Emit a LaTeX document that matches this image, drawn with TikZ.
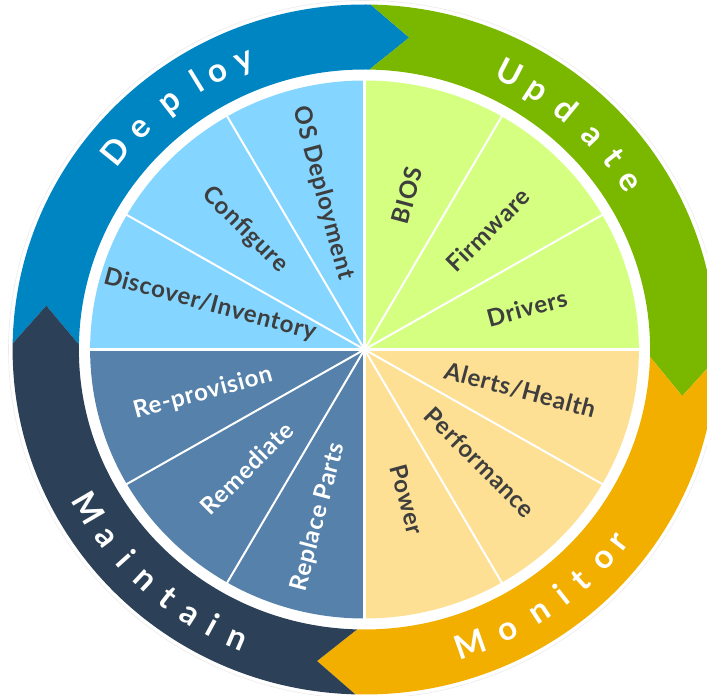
\documentclass[tikz,border=0pt]{standalone}
\usepackage{fontspec}
\setmainfont{Lato}
\definecolor{ringblue}{HTML}{0085C3}
\definecolor{ringgreen}{HTML}{7AB800}
\definecolor{ringorange}{HTML}{F2AF00}
\definecolor{ringnavy}{HTML}{2C4157}
\definecolor{pieblue}{HTML}{84D5FF}
\definecolor{piegreen}{HTML}{D5FF80}
\definecolor{pieyellow}{HTML}{FDE094}
\definecolor{piesteel}{HTML}{5581AA}
\definecolor{labgray}{HTML}{3E3E3E}
\newfontfamily\labfont{Lato}[LetterSpace=3]
\tikzset{
  lab/.style={font=\labfont\fontsize{24}{28}\selectfont\bfseries, text=labgray, inner sep=0pt},
  labw/.style={lab, text=white},
  ringtxt/.style={font=\fontsize{33}{37}\selectfont\bfseries, text=white, anchor=base, inner sep=0pt},
  spoke/.style={draw=white, line width=2pt},
  axisline/.style={draw=white, line width=3pt}
}
\begin{document}
\begin{tikzpicture}[x=1pt,y=1pt]
\useasboundingbox (-364.5,-346.5) rectangle (342.5,349.5);
\begin{scope}[xscale=1.02]
\def\ringO{345}
\def\ringI{280}
\def\ringM{315}
\def\pieR{269}
% faint outline
\draw[black!8, line width=0.6pt] (0,0) circle[radius=349];
% ring segments
\fill[ringblue] (179:\ringO) arc[start angle=179, end angle=89, radius=\ringO] -- (82:\ringM) -- (89:\ringI) arc[start angle=89, end angle=179, radius=\ringI] -- (172:\ringM) -- cycle;
\fill[ringgreen] (89:\ringO) arc[start angle=89, end angle=-1.5, radius=\ringO] -- (-8.5:\ringM) -- (-1.5:\ringI) arc[start angle=-1.5, end angle=89, radius=\ringI] -- (82:\ringM) -- cycle;
\fill[ringorange] (-1.5:\ringO) arc[start angle=-1.5, end angle=-91.5, radius=\ringO] -- (-98.5:\ringM) -- (-91.5:\ringI) arc[start angle=-91.5, end angle=-1.5, radius=\ringI] -- (-8.5:\ringM) -- cycle;
\fill[ringnavy] (-91.5:\ringO) arc[start angle=-91.5, end angle=-181, radius=\ringO] -- (-188:\ringM) -- (-181:\ringI) arc[start angle=-181, end angle=-91.5, radius=\ringI] -- (-98.5:\ringM) -- cycle;
% pie quadrants
\fill[pieblue] (0,0) -- (90:\pieR) arc[start angle=90, end angle=180, radius=\pieR] -- cycle;
\fill[piegreen] (0,0) -- (0:\pieR) arc[start angle=0, end angle=90, radius=\pieR] -- cycle;
\fill[pieyellow] (0,0) -- (-90:\pieR) arc[start angle=-90, end angle=0, radius=\pieR] -- cycle;
\fill[piesteel] (0,0) -- (180:\pieR) arc[start angle=180, end angle=270, radius=\pieR] -- cycle;
% spokes
\foreach \a in {30,60,120,150,210,240,300,330} \draw[spoke] (0,0) -- (\a:\pieR+1);
\foreach \a in {0,90,180,270} \draw[axisline] (0,0) -- (\a:\pieR+1);
% sector labels
\node[lab, rotate=-75] (osdep) at (104.6:161.7) {OS Deployment};
\node[lab, rotate=-45] (config) at (134.4:167.4) {Configure};
\node[lab, rotate=-15] (discover) at (163.6:157.9) {Discover/Inventory};
\node[lab, rotate=75] (bios) at (74.9:160) {BIOS};
\node[lab, rotate=45] (firmware) at (44.6:170) {Firmware};
\node[lab, rotate=15] (drivers) at (14.6:164.6) {Drivers};
\node[lab, rotate=-15] (alerts) at (-14.9:157.8) {Alerts/Health};
\node[lab, rotate=-45] (perf) at (-44.8:159.6) {Performance};
\node[lab, rotate=-75] (power) at (-74.5:156) {Power};
\node[labw, rotate=15] (reprov) at (195.4:164.2) {Re-provision};
\node[labw, rotate=45] (remed) at (225.8:165.3) {Remediate};
\node[labw, rotate=75] (replace) at (254.8:173.6) {Replace Parts};
% ring texts
\foreach \ang/\ch [count=\i] in {141.0/D,134.8/e,127.7/p,121.5/l,117.5/o,112.2/y}
  \node[ringtxt, rotate=\ang-90] (dep\i) at (\ang:302.5) {\ch};
\foreach \ang/\ch [count=\i] in {62.8/U,56.9/p,50.5/d,43.7/a,38.0/t,32.8/e}
  \node[ringtxt, rotate=\ang-90] (upd\i) at (\ang:300) {\ch};
\foreach \ang/\ch [count=\i] in {-70.7/M,-63.4/o,-56.9/n,-51.8/i,-47.5/t,-41.9/o,-37.6/r}
  \node[ringtxt, rotate=\ang+90] (mon\i) at (\ang:324) {\ch};
\foreach \ang/\ch [count=\i] in {210.3/M,216.6/a,221.9/i,227.0/n,232.1/t,237.2/a,241.6/i,246.7/n}
  \node[ringtxt, rotate=\ang+90] (mnt\i) at (\ang:325) {\ch};
\end{scope}
\end{tikzpicture}
\end{document}
